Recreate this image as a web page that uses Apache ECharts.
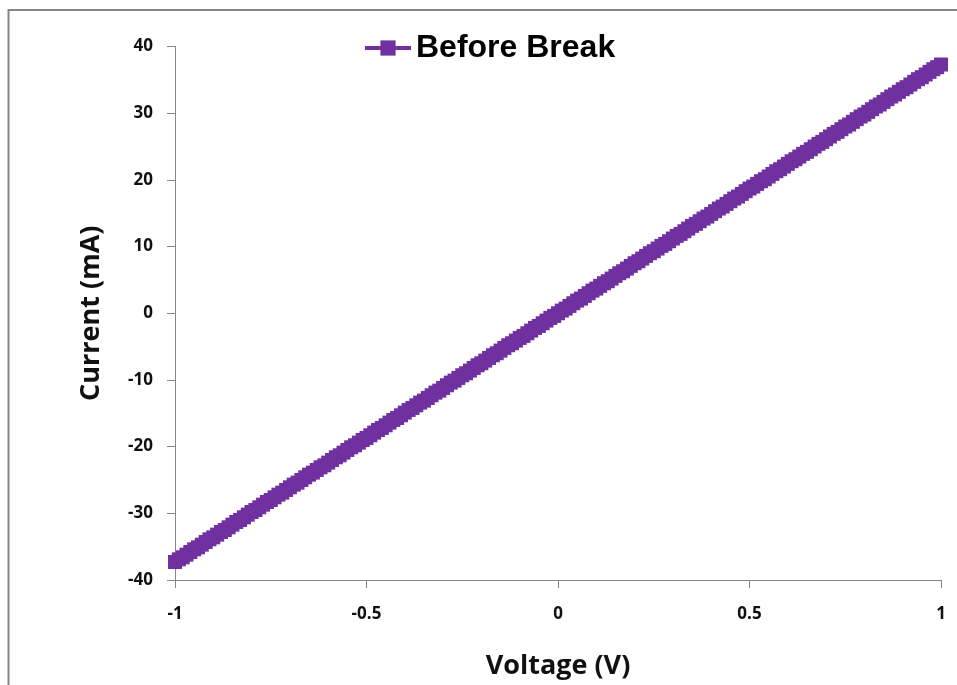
<!DOCTYPE html>
<html>
<head>
<meta charset="utf-8">
<script src="https://cdn.jsdelivr.net/npm/echarts@6/dist/echarts.min.js"></script>
<style>html,body{margin:0;padding:0;background:#fff;}#c{width:957px;height:685px;}</style>
</head>
<body>
<div id="c"></div>
<script>
const seriesName = 'Before Break';
const xTitle = 'Voltage (V)';
const yTitle = 'Current (mA)';
const voltage = [
-1.00,-0.99,-0.98,-0.97,-0.96,-0.95,-0.94,-0.93,-0.92,-0.91,
-0.90,-0.89,-0.88,-0.87,-0.86,-0.85,-0.84,-0.83,-0.82,-0.81,
-0.80,-0.79,-0.78,-0.77,-0.76,-0.75,-0.74,-0.73,-0.72,-0.71,
-0.70,-0.69,-0.68,-0.67,-0.66,-0.65,-0.64,-0.63,-0.62,-0.61,
-0.60,-0.59,-0.58,-0.57,-0.56,-0.55,-0.54,-0.53,-0.52,-0.51,
-0.50,-0.49,-0.48,-0.47,-0.46,-0.45,-0.44,-0.43,-0.42,-0.41,
-0.40,-0.39,-0.38,-0.37,-0.36,-0.35,-0.34,-0.33,-0.32,-0.31,
-0.30,-0.29,-0.28,-0.27,-0.26,-0.25,-0.24,-0.23,-0.22,-0.21,
-0.20,-0.19,-0.18,-0.17,-0.16,-0.15,-0.14,-0.13,-0.12,-0.11,
-0.10,-0.09,-0.08,-0.07,-0.06,-0.05,-0.04,-0.03,-0.02,-0.01,
0.00,
0.01,0.02,0.03,0.04,0.05,0.06,0.07,0.08,0.09,0.10,
0.11,0.12,0.13,0.14,0.15,0.16,0.17,0.18,0.19,0.20,
0.21,0.22,0.23,0.24,0.25,0.26,0.27,0.28,0.29,0.30,
0.31,0.32,0.33,0.34,0.35,0.36,0.37,0.38,0.39,0.40,
0.41,0.42,0.43,0.44,0.45,0.46,0.47,0.48,0.49,0.50,
0.51,0.52,0.53,0.54,0.55,0.56,0.57,0.58,0.59,0.60,
0.61,0.62,0.63,0.64,0.65,0.66,0.67,0.68,0.69,0.70,
0.71,0.72,0.73,0.74,0.75,0.76,0.77,0.78,0.79,0.80,
0.81,0.82,0.83,0.84,0.85,0.86,0.87,0.88,0.89,0.90,
0.91,0.92,0.93,0.94,0.95,0.96,0.97,0.98,0.99,1.00
];
const current = [
-37.3,-36.9,-36.6,-36.2,-35.8,-35.4,-35.1,-34.7,-34.3,-33.9,
-33.6,-33.2,-32.8,-32.5,-32.1,-31.7,-31.3,-31.0,-30.6,-30.2,
-29.8,-29.5,-29.1,-28.7,-28.3,-28.0,-27.6,-27.2,-26.9,-26.5,
-26.1,-25.7,-25.4,-25.0,-24.6,-24.2,-23.9,-23.5,-23.1,-22.8,
-22.4,-22.0,-21.6,-21.3,-20.9,-20.5,-20.1,-19.8,-19.4,-19.0,
-18.7,-18.3,-17.9,-17.5,-17.2,-16.8,-16.4,-16.0,-15.7,-15.3,
-14.9,-14.5,-14.2,-13.8,-13.4,-13.1,-12.7,-12.3,-11.9,-11.6,
-11.2,-10.8,-10.4,-10.1,-9.7,-9.3,-9.0,-8.6,-8.2,-7.8,
-7.5,-7.1,-6.7,-6.3,-6.0,-5.6,-5.2,-4.8,-4.5,-4.1,
-3.7,-3.4,-3.0,-2.6,-2.2,-1.9,-1.5,-1.1,-0.7,-0.4,
0.0,
0.4,0.7,1.1,1.5,1.9,2.2,2.6,3.0,3.4,3.7,
4.1,4.5,4.8,5.2,5.6,6.0,6.3,6.7,7.1,7.5,
7.8,8.2,8.6,9.0,9.3,9.7,10.1,10.4,10.8,11.2,
11.6,11.9,12.3,12.7,13.1,13.4,13.8,14.2,14.5,14.9,
15.3,15.7,16.0,16.4,16.8,17.2,17.5,17.9,18.3,18.7,
19.0,19.4,19.8,20.1,20.5,20.9,21.3,21.6,22.0,22.4,
22.8,23.1,23.5,23.9,24.2,24.6,25.0,25.4,25.7,26.1,
26.5,26.9,27.2,27.6,28.0,28.3,28.7,29.1,29.5,29.8,
30.2,30.6,31.0,31.3,31.7,32.1,32.5,32.8,33.2,33.6,
33.9,34.3,34.7,35.1,35.4,35.8,36.2,36.6,36.9,37.3
];

const points = voltage.map((v, i) => [v, current[i]]);
const axisGrey = '#868686';
const purple = '#7030A0';

const chart = echarts.init(document.getElementById('c'), null, {renderer: 'canvas'});
chart.setOption({
  animation: false,
  backgroundColor: '#fff',
  graphic: [{
    type: 'rect',
    shape: {x: 8.5, y: 10, width: 1200, height: 1200},
    style: {fill: 'none', stroke: axisGrey, lineWidth: 2},
    silent: true, z: -1
  }],
  legend: {
    left: 358, top: 27,
    itemWidth: 46, itemHeight: 19,
    itemGap: 2,
    itemStyle: {borderWidth: 0},
    lineStyle: {width: 4},
    textStyle: {fontFamily: 'Liberation Sans', fontWeight: 'bold', fontSize: 32, color: '#000'},
    data: [seriesName]
  },
  grid: {left: 175, right: 16, top: 46.5, bottom: 103, containLabel: false},
  xAxis: {
    type: 'value', min: -1, max: 1, interval: 0.5,
    name: xTitle, nameLocation: 'middle', nameGap: 73,
    nameTextStyle: {fontFamily: 'Open Sans', fontWeight: 'bold', fontSize: 27, color: '#111'},
    axisLine: {show: true, onZero: false, lineStyle: {color: axisGrey, width: 1}},
    axisTick: {show: true, length: 8, lineStyle: {color: axisGrey}},
    splitLine: {show: false},
    axisLabel: {margin: 26, fontFamily: 'Open Sans', fontWeight: 'bold', fontSize: 17, color: '#111'}
  },
  yAxis: {
    type: 'value', min: -40, max: 40, interval: 10,
    name: yTitle, nameLocation: 'middle', nameGap: 70, nameRotate: 90,
    nameTextStyle: {fontFamily: 'Open Sans', fontWeight: 'bold', fontSize: 27, color: '#111'},
    axisLine: {show: true, onZero: false, lineStyle: {color: axisGrey, width: 1}},
    axisTick: {show: true, length: 8, lineStyle: {color: axisGrey}},
    splitLine: {show: false},
    axisLabel: {margin: 22, fontFamily: 'Open Sans', fontWeight: 'bold', fontSize: 17, color: '#111'}
  },
  series: [{
    name: seriesName,
    type: 'line',
    data: points,
    symbol: 'rect',
    symbolSize: 14,
    showAllSymbol: true,
    itemStyle: {color: purple},
    lineStyle: {color: purple, width: 3}
  }]
});
</script>
</body>
</html>
